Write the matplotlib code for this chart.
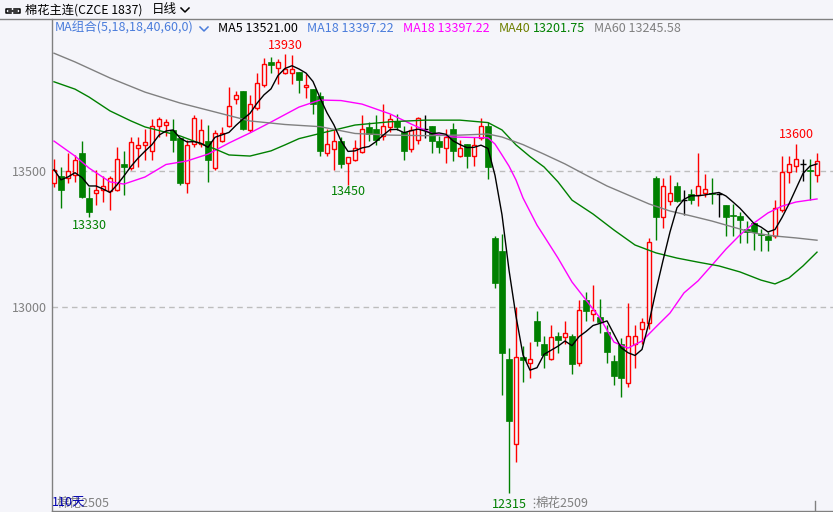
import matplotlib
matplotlib.use('Agg')
import matplotlib.pyplot as plt
import numpy as np
import pandas as pd
from matplotlib.lines import Line2D

plt.rcParams['font.family'] = ['Noto Sans CJK SC', 'DejaVu Sans']

# ---------------- data ----------------
opens = [13455, 13480, 13475, 13485, 13565, 13400, 13420, 13430, 13425, 13430,
         13525, 13510, 13585, 13595, 13575, 13665, 13670, 13650, 13620, 13455,
         13600, 13600, 13610, 13510, 13610, 13665, 13765, 13795, 13650, 13730,
         13815, 13900, 13880, 13860, 13860, 13865, 13810, 13800, 13775, 13565,
         13580, 13610, 13530, 13540, 13570, 13660, 13655, 13630, 13660, 13685,
         13645, 13580, 13615, 13655, 13665, 13610, 13585, 13655, 13555, 13600,
         13555, 13620, 13665, 13255, 13205, 12810, 12495, 12815, 12795, 12950,
         12865, 12810, 12895, 12890, 12895, 12795, 13025, 12975, 12965, 12910,
         12800, 12865, 12720, 12865, 12920, 12940, 13475, 13330, 13390, 13445,
         13395, 13415, 13410, 13420, 13420, 13415, 13375, 13340, 13335, 13285,
         13310, 13270, 13260, 13260, 13355, 13495, 13520, 13525, 13505, 13485]
highs = [13545, 13515, 13565, 13560, 13610, 13440, 13505, 13480, 13480, 13590,
         13575, 13625, 13625, 13655, 13690, 13700, 13690, 13690, 13620, 13615,
         13705, 13690, 13670, 13650, 13660, 13810, 13795, 13795, 13780, 13860,
         13915, 13920, 13910, 13930, 13925, 13865, 13855, 13800, 13790, 13655,
         13655, 13625, 13550, 13615, 13705, 13680, 13705, 13745, 13710, 13710,
         13665, 13665, 13700, 13705, 13665, 13630, 13655, 13675, 13615, 13600,
         13625, 13695, 13680, 13260, 13270, 12850, 13000, 12855, 12870, 12985,
         12895, 12935, 12910, 12950, 12900, 13025, 13055, 13080, 13030, 12935,
         12825, 12885, 13015, 12935, 12960, 13255, 13480, 13475, 13485, 13460,
         13430, 13435, 13565, 13490, 13475, 13420, 13375, 13380, 13350, 13315,
         13310, 13285, 13275, 13395, 13555, 13555, 13600, 13545, 13545, 13565]
lows = [13440, 13365, 13455, 13460, 13400, 13330, 13375, 13385, 13355, 13425,
        13410, 13505, 13515, 13540, 13540, 13625, 13630, 13570, 13450, 13420,
        13590, 13590, 13460, 13505, 13605, 13660, 13745, 13650, 13645, 13725,
        13810, 13860, 13820, 13855, 13820, 13785, 13770, 13710, 13555, 13555,
        13505, 13510, 13450, 13535, 13565, 13610, 13595, 13615, 13645, 13650,
        13540, 13570, 13600, 13620, 13565, 13565, 13530, 13535, 13550, 13510,
        13520, 13615, 13470, 13070, 12675, 12315, 12430, 12725, 12740, 12855,
        12775, 12805, 12830, 12865, 12755, 12785, 12950, 12950, 12905, 12795,
        12715, 12670, 12705, 12775, 12865, 12920, 13245, 13290, 13375, 13385,
        13340, 13380, 13370, 13405, 13380, 13330, 13260, 13260, 13235, 13235,
        13210, 13205, 13205, 13255, 13350, 13455, 13495, 13465, 13395, 13460]
closes = [13505, 13430, 13500, 13540, 13405, 13350, 13430, 13445, 13475, 13545,
          13515, 13605, 13595, 13605, 13665, 13690, 13680, 13615, 13455, 13595,
          13695, 13650, 13540, 13640, 13640, 13740, 13780, 13655, 13745, 13825,
          13895, 13890, 13900, 13875, 13875, 13835, 13815, 13745, 13575, 13600,
          13610, 13525, 13550, 13585, 13655, 13635, 13615, 13665, 13690, 13660,
          13575, 13650, 13695, 13655, 13610, 13590, 13625, 13575, 13585, 13555,
          13595, 13665, 13515, 13090, 12830, 12580, 12815, 12805, 12810, 12875,
          12825, 12890, 12880, 12905, 12790, 12990, 12985, 12990, 12945, 12835,
          12745, 12740, 12895, 12895, 12945, 13240, 13330, 13445, 13420, 13390,
          13395, 13395, 13445, 13435, 13415, 13415, 13330, 13335, 13320, 13275,
          13275, 13265, 13245, 13365, 13495, 13525, 13545, 13525, 13500, 13535]

ma18_idx = [0, 3, 5, 8, 10, 13, 16, 19, 22, 25, 28, 31, 35, 38, 41, 44, 48, 51, 54, 57,
            62, 63, 64, 65, 66, 67, 69, 70, 72, 74, 76, 78, 80, 82, 84, 86, 88, 90,
            92, 94, 96, 98, 100, 102, 104, 106, 109]
ma18_val = [13610, 13555, 13511, 13460, 13452, 13478, 13524, 13537, 13562, 13603,
            13640, 13680, 13735, 13761, 13759, 13746, 13710, 13673, 13638, 13625,
            13622, 13599, 13559, 13518, 13467, 13401, 13301, 13261, 13180, 13092,
            13026, 12960, 12871, 12849, 12875, 12927, 12978, 13052, 13096, 13154,
            13213, 13265, 13309, 13346, 13371, 13386, 13397.22]

ma40_idx = [0, 3, 5, 8, 11, 13, 18, 23, 25, 28, 31, 33, 35, 38, 43, 48, 53, 58, 62, 64,
            66, 68, 70, 72, 74, 77, 80, 83, 86, 89, 92, 95, 98, 101, 103, 105, 107, 109]
ma40_val = [13828, 13801, 13772, 13721, 13684, 13662, 13629, 13581, 13559, 13555,
            13574, 13596, 13619, 13638, 13669, 13681, 13687, 13687, 13678, 13651,
            13596, 13553, 13515, 13460, 13393, 13342, 13283, 13228, 13199, 13180,
            13165, 13151, 13129, 13099, 13085, 13107, 13151, 13201.75]

ma60_idx = [0, 3, 8, 13, 18, 23, 28, 33, 38, 43, 48, 53, 58, 62, 64, 67, 70, 73, 76, 79,
            82, 85, 88, 91, 94, 97, 100, 103, 106, 109]
ma60_val = [13933, 13901, 13842, 13790, 13750, 13717, 13684, 13671, 13663, 13638,
            13632, 13630, 13632, 13636, 13625, 13597, 13562, 13526, 13485, 13445,
            13412, 13379, 13353, 13335, 13316, 13294, 13272, 13261, 13254, 13245.58]

y_ticks = [13000, 13500]
y_tick_labels = ['13000', '13500']

# ---------------- layout ----------------
W, H = 833, 512
BG = '#F5F5FA'
RED = '#FF0000'
GREEN = '#008000'
GRAY = '#808080'
BLUE = '#4A7CDB'
MAGENTA = '#FF00FF'

fig = plt.figure(figsize=(W / 100, H / 100), dpi=100, facecolor=BG)


def fx(x):
    return x / W


def fy(y):
    return 1 - y / H


ax = fig.add_axes([fx(52), fy(511), fx(833) - fx(52), fy(19) - fy(511)])
ax.set_facecolor(BG)
ax.set_xlim((52 - 54) / 7, (833 - 54) / 7)
ax.set_ylim(12250.2, 14058.8)

for s in ['top', 'right']:
    ax.spines[s].set_visible(False)
for s in ['left', 'bottom']:
    ax.spines[s].set_color(GRAY)
    ax.spines[s].set_linewidth(1)
ax.set_xticks([])
ax.set_yticks(y_ticks)
ax.set_yticklabels(y_tick_labels)
ax.tick_params(axis='y', length=0, pad=3.5, labelcolor=GRAY, labelsize=9)

for v in y_ticks:
    ax.axhline(v, color='#BDBDBD', lw=1, ls=(0, (4, 3)), zorder=1)

# ---------------- candles ----------------
bw = 0.62
for i in range(len(opens)):
    o, h, l, c = opens[i], highs[i], lows[i], closes[i]
    if c > o:
        ax.vlines(i, l, h, color=RED, lw=1, zorder=2)
        ax.bar(i, c - o, bottom=o, width=bw, facecolor=BG, edgecolor=RED,
               linewidth=1, zorder=3)
    elif c < o:
        ax.vlines(i, l, h, color=GREEN, lw=1, zorder=2)
        ax.bar(i, o - c, bottom=c, width=bw + 0.1, facecolor=GREEN,
               edgecolor=GREEN, linewidth=0.5, zorder=3)
    else:
        ax.vlines(i, l, h, color='black', lw=1, zorder=2)
        ax.hlines(c, i - 0.36, i + 0.36, color='black', lw=1, zorder=3)

# ---------------- moving averages ----------------
ma5 = pd.Series(closes, dtype=float).rolling(5, min_periods=1).mean()
ax.plot(np.arange(len(closes)), ma5, color='black', lw=1, zorder=5)
ax.plot(ma18_idx, ma18_val, color=MAGENTA, lw=1, zorder=4)
ax.plot(ma40_idx, ma40_val, color=GREEN, lw=1, zorder=4)
ax.plot(ma60_idx, ma60_val, color=GRAY, lw=1, zorder=4)

# extreme labels
fs = 9
ax.annotate('13930', xy=(33, 13930), xytext=(0, 9), textcoords='offset pixels',
            ha='center', va='center', color=RED, fontsize=fs)
ax.annotate('13330', xy=(5, 13330), xytext=(0, -8), textcoords='offset pixels',
            ha='center', va='center', color=GREEN, fontsize=fs)
ax.annotate('13450', xy=(42, 13450), xytext=(0, -7), textcoords='offset pixels',
            ha='center', va='center', color=GREEN, fontsize=fs)
ax.annotate('13600', xy=(106, 13600), xytext=(0, 9), textcoords='offset pixels',
            ha='center', va='center', color=RED, fontsize=fs)
ax.annotate('12315', xy=(65, 12315), xytext=(0, -11), textcoords='offset pixels',
            ha='center', va='center', color=GREEN, fontsize=fs, annotation_clip=False)

# ---------------- header ----------------
fig.add_artist(Line2D([0, 1], [fy(19), fy(19)], color=GRAY, lw=1))

# link icon
fig.add_artist(Line2D([fx(11), fx(6), fx(6), fx(11)], [fy(8.5), fy(8.5), fy(13), fy(13)],
                      color='black', lw=1.1))
fig.add_artist(Line2D([fx(14), fx(19.5), fx(19.5), fx(14)], [fy(8.5), fy(8.5), fy(13), fy(13)],
                      color='black', lw=1.1))
fig.add_artist(Line2D([fx(9), fx(16.5)], [fy(10.8), fy(10.8)], color='black', lw=1.1))

fig.text(fx(25), fy(10), '棉花主连(CZCE 1837)', fontsize=8.8, color='black', va='center', ha='left')
fig.text(fx(152), fy(10), '日线', fontsize=9, color='black', va='center', ha='left')
fig.add_artist(Line2D([fx(181), fx(185), fx(189)], [fy(8), fy(12), fy(8)], color='black', lw=1.1))

fig.text(fx(55), fy(28), 'MA组合(5,18,18,40,60,0)', fontsize=fs, color=BLUE, va='center', ha='left')
fig.add_artist(Line2D([fx(200), fx(204), fx(208)], [fy(27), fy(31), fy(27)], color=BLUE, lw=1.1))
fig.text(fx(218), fy(28), 'MA5 13521.00', fontsize=fs, color='black', va='center', ha='left')
fig.text(fx(307), fy(28), 'MA18 13397.22', fontsize=fs, color=BLUE, va='center', ha='left')
fig.text(fx(403), fy(28), 'MA18 13397.22', fontsize=fs, color=MAGENTA, va='center', ha='left')
fig.text(fx(499), fy(28), 'MA40', fontsize=fs, color='#6E8000', va='center', ha='left')
fig.text(fx(533), fy(28), '13201.75', fontsize=fs, color=GREEN, va='center', ha='left')
fig.text(fx(594), fy(28), 'MA60 13245.58', fontsize=fs, color=GRAY, va='center', ha='left')

# ---------------- footer ----------------
fig.text(fx(57), fy(503.5), '棉花2505', fontsize=fs, color=GRAY, va='center', ha='left')
fig.text(fx(52), fy(502.5), '110天', fontsize=fs, color='#0000B0', va='center', ha='left')
fig.add_artist(Line2D([fx(533.5), fx(533.5)], [fy(498), fy(510)], color=GRAY, lw=1, ls=(0, (1, 2))))
fig.text(fx(536), fy(503.5), '棉花2509', fontsize=fs, color=GRAY, va='center', ha='left')
fig.add_artist(Line2D([fx(815), fx(815)], [fy(501), fy(511)], color=GRAY, lw=1))

fig.savefig('out.png', dpi=100, facecolor=BG)
